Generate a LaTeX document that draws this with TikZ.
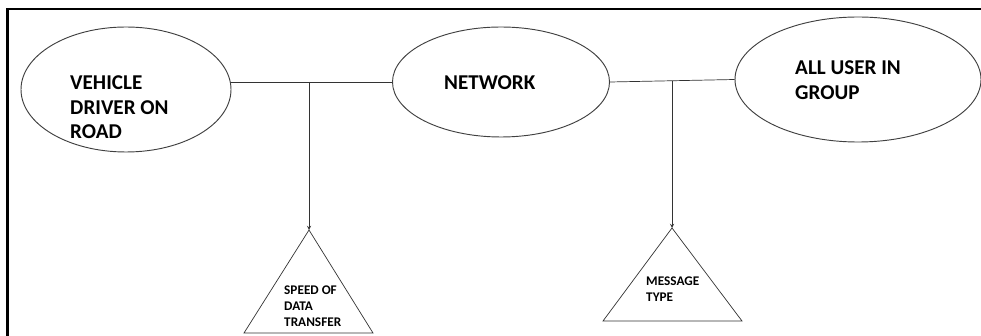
\documentclass[tikz,border=0pt]{standalone}
\usepackage{fontspec}
\setmainfont{Carlito}
\tikzset{>=stealth}
\usetikzlibrary{shapes.geometric}
\tikzset{
    blob/.style={draw=black!75, line width=0.8pt, ellipse, inner sep=0pt},
    bigtext/.style={font=\bfseries\fontsize{18}{21.3}\selectfont, align=left, inner sep=0pt, anchor=north west},
    smalltext/.style={font=\bfseries\fontsize{11.3}{13.6}\selectfont, align=left, inner sep=0pt, anchor=north west},
    wire/.style={black!80, line width=0.6pt}
}

\begin{document}
\begin{tikzpicture}[x=0.3mm,y=0.3mm]
    \useasboundingbox (0,0) rectangle (981,336);
    \draw[line width=2pt] (7.5,0) -- (7.5,327) -- (981,327);
    % the three ellipses
    \node[blob, minimum width=63mm, minimum height=37.5mm] (veh) at (126,246.5) {};
    \node[blob, minimum width=65.1mm, minimum height=33mm] (net) at (501,254) {};
    \node[blob, minimum width=73.8mm, minimum height=37.5mm] (usr) at (858,256.5) {};
    \node[bigtext] (vehtxt) at (70,261) {VEHICLE\\DRIVER ON\\ROAD};
    \node[bigtext] (nettxt) at (444,261) {NETWORK};
    \node[bigtext] (usrtxt) at (795,276) {ALL USER IN\\GROUP};
    % links and junctions
    \draw[wire] (net.west) -- (net.west -| veh.east);
    \draw[wire] (net.east) -- (usr.west);
    \coordinate (j1) at (309,254);
    \coordinate (j2) at (672,255);
    % triangles
    \coordinate (spd) at (309,106);
    \coordinate (msg) at (672,108);
    \draw[wire] (spd) -- (244,3) -- (373,3) -- cycle;
    \draw[wire] (msg) -- (603,15) -- (742,15) -- cycle;
    \node[smalltext] (spdtxt) at (284,50) {SPEED OF\\DATA\\TRANSFER};
    \node[smalltext] (msgtxt) at (646,59) {MESSAGE\\TYPE};
    \draw[wire, ->] (j1) -- (spd);
    \draw[wire, ->] (j2) -- (msg);
\end{tikzpicture}
\end{document}
